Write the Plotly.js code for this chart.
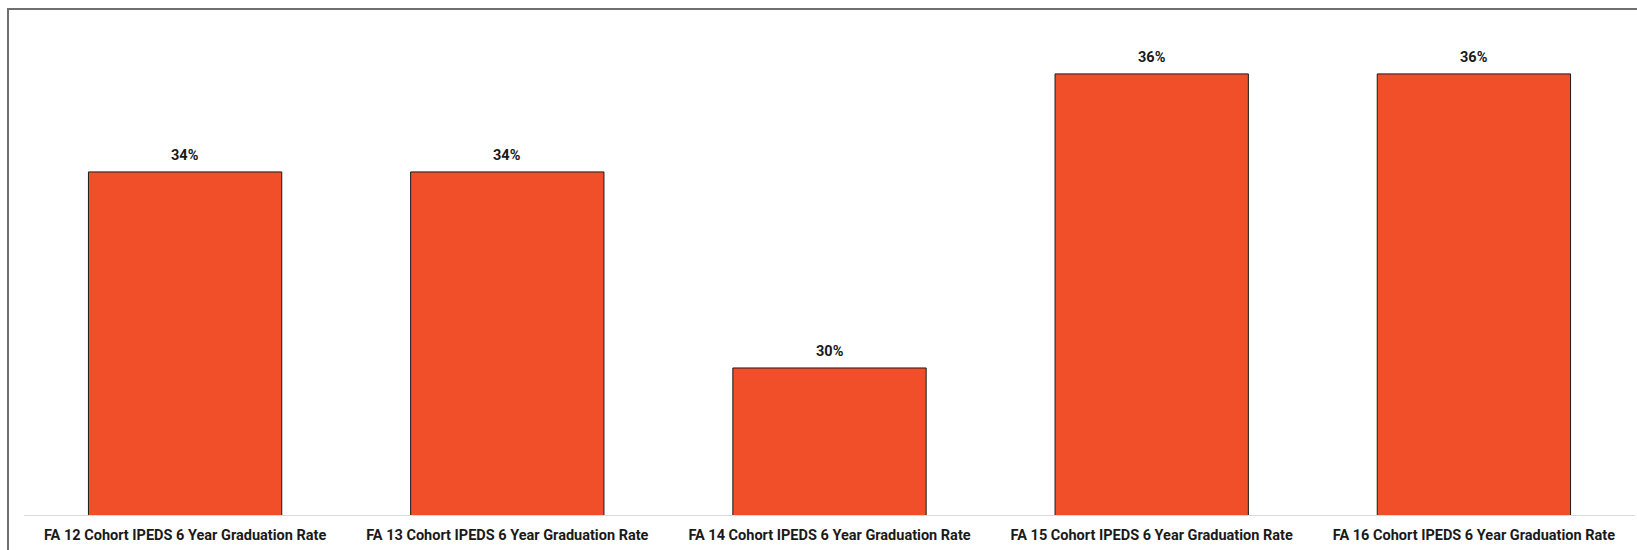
<!DOCTYPE html>
<html>
<head>
<meta charset="utf-8">
<script src="https://cdn.plot.ly/plotly-3.0.1.min.js"></script>
<style>
  html, body { margin: 0; padding: 0; overflow: hidden; background: #fff; }
  #chart { position: absolute; left: 0; top: 0; width: 1637px; height: 550px; }
  #frame { position: absolute; left: 7px; top: 8px; width: 1700px; height: 600px;
           border-left: 2px solid #6f6f6f; border-top: 2px solid #6f6f6f; pointer-events: none; }
</style>
</head>
<body>
<div id="chart"></div>
<div id="frame"></div>
<script>
const categories = [
  "FA 12 Cohort IPEDS 6 Year Graduation Rate",
  "FA 13 Cohort IPEDS 6 Year Graduation Rate",
  "FA 14 Cohort IPEDS 6 Year Graduation Rate",
  "FA 15 Cohort IPEDS 6 Year Graduation Rate",
  "FA 16 Cohort IPEDS 6 Year Graduation Rate"
];
const rates = [0.34, 0.34, 0.30, 0.36, 0.36];
const labels = ["34%", "34%", "30%", "36%", "36%"];

const labelFont = { family: "Roboto, 'Noto Sans', sans-serif", size: 14.5, color: "#1a1a1a", weight: 700 };

const trace = {
  type: "bar",
  x: categories,
  y: rates,
  marker: { color: "#F04F29", line: { color: "#1a1a1a", width: 1 } },
  hoverinfo: "none"
};

const annotations = categories.map((c, i) => ({
  x: c, y: rates[i], xref: "x", yref: "y",
  text: "<b>" + labels[i] + "</b>",
  showarrow: false, yanchor: "bottom", yshift: 6,
  font: labelFont
}));

const layout = {
  width: 1637, height: 550,
  margin: { l: 24, r: 2, t: 20, b: 35 },
  paper_bgcolor: "#ffffff", plot_bgcolor: "#ffffff",
  bargap: 0.4,
  showlegend: false,
  xaxis: {
    type: "category",
    showline: true, linecolor: "#d9d9d9", linewidth: 1,
    ticks: "", showgrid: false, zeroline: false,
    tickfont: labelFont,
    ticklabelstandoff: 7,
    tickangle: 0
  },
  yaxis: {
    range: [0.27, 0.371],
    visible: false, showgrid: false, zeroline: false
  },
  annotations: annotations
};

Plotly.newPlot("chart", [trace], layout, { staticPlot: true, displayModeBar: false });
</script>
</body>
</html>
